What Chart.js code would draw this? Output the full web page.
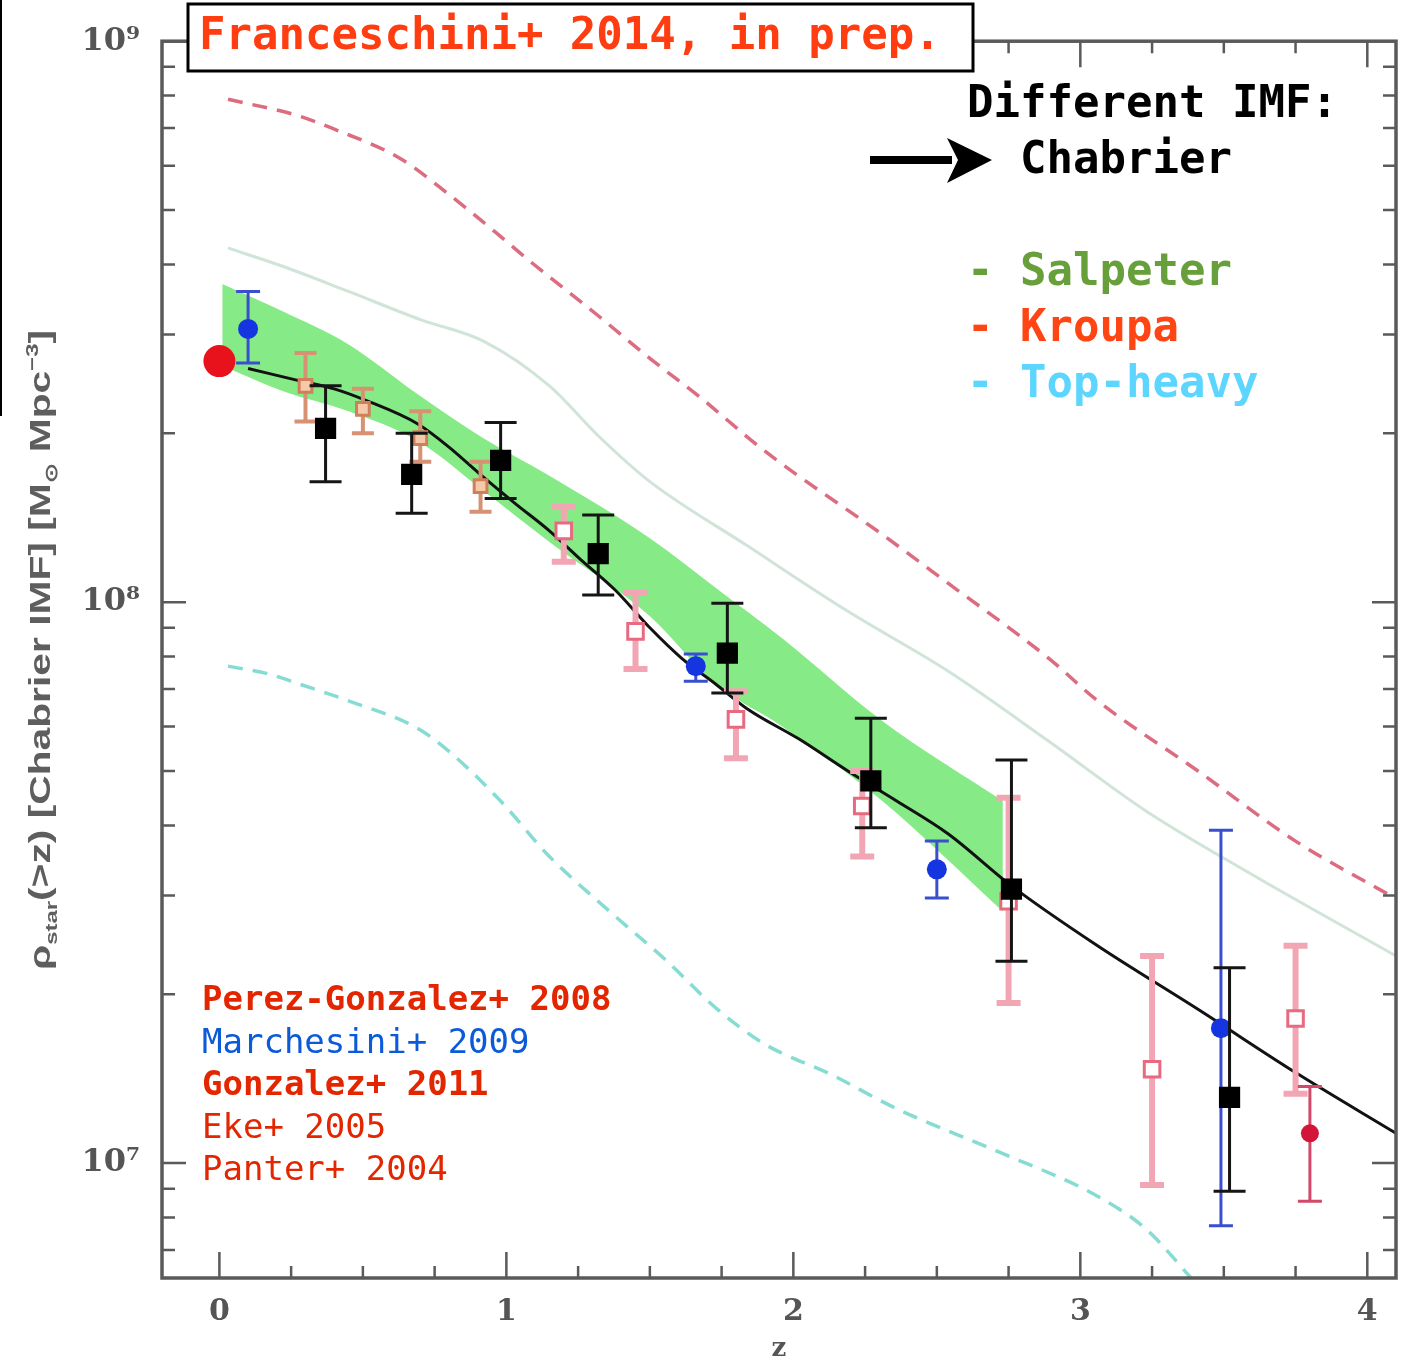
<!DOCTYPE html>
<html>
<head>
<meta charset="utf-8">
<script src="https://cdn.jsdelivr.net/npm/chart.js@4.4.1/dist/chart.umd.min.js"></script>
<style>
  html, body { margin: 0; padding: 0; background: #fff; }
  #wrap { width: 1412px; height: 1365px; }
</style>
</head>
<body>
<div id="wrap"><canvas id="rhoChart" width="1412" height="1365"></canvas></div>
<script>
// stellar mass density above z
const xTicks = [0, 1, 2, 3, 4];
const xTickLabels = ['0', '1', '2', '3', '4'];
const yTicks = [1e7, 1e8, 1e9];
const yTickLabels = ['10⁷', '10⁸', '10⁹'];

// Chabrier model (solid black)
const zChab = [0.10, 0.28, 0.40, 0.51, 0.69, 0.80, 0.92, 1.03, 1.15, 1.26, 1.38, 1.50, 1.61, 1.73, 1.84, 2.02, 2.19, 2.36, 2.54, 2.76, 3.06, 3.41, 3.75, 4.10];
const rhoChab = [2.61e8, 2.48e8, 2.40e8, 2.29e8, 2.08e8, 1.89e8, 1.67e8, 1.50e8, 1.34e8, 1.19e8, 1.05e8, 9.00e7, 7.95e7, 7.14e7, 6.45e7, 5.70e7, 5.00e7, 4.42e7, 3.86e7, 3.12e7, 2.44e7, 1.88e7, 1.45e7, 1.13e7];

// green uncertainty band
const zBand = [0.01, 0.22, 0.45, 0.69, 0.92, 1.15, 1.50, 1.73, 1.96, 2.31, 2.73];
const bandHi = [3.69e8, 3.30e8, 2.88e8, 2.35e8, 1.96e8, 1.68e8, 1.30e8, 1.06e8, 8.63e7, 6.14e7, 4.42e7];
const bandLo = [2.64e8, 2.38e8, 2.19e8, 1.94e8, 1.58e8, 1.28e8, 9.44e7, 7.14e7, 6.01e7, 4.42e7, 2.81e7];

// Salpeter (faint green)
const zSalp = [0.03, 0.22, 0.45, 0.70, 0.92, 1.15, 1.32, 1.50, 1.84, 2.19, 2.54, 2.89, 3.23, 3.58, 4.10];
const rhoSalp = [4.28e8, 3.97e8, 3.58e8, 3.19e8, 2.92e8, 2.43e8, 1.98e8, 1.64e8, 1.26e8, 9.63e7, 7.53e7, 5.65e7, 4.24e7, 3.31e7, 2.34e7];

// Kroupa (red dashed)
const zKroupa = [0.03, 0.28, 0.40, 0.63, 0.80, 0.97, 1.07, 1.32, 1.50, 1.67, 1.90, 2.31, 2.54, 2.89, 3.06, 3.41, 3.75, 4.10];
const rhoKroupa = [7.88e8, 7.35e8, 6.97e8, 6.18e8, 5.33e8, 4.53e8, 4.10e8, 3.24e8, 2.72e8, 2.33e8, 1.86e8, 1.32e8, 1.08e8, 7.94e7, 6.67e7, 5.00e7, 3.75e7, 2.96e7];

// top-heavy (cyan dashed)
const zTop = [0.03, 0.17, 0.28, 0.45, 0.69, 0.80, 0.98, 1.15, 1.36, 1.56, 1.73, 1.90, 2.13, 2.36, 2.71, 3.06, 3.23, 3.39];
const rhoTop = [7.69e7, 7.45e7, 7.14e7, 6.67e7, 5.96e7, 5.42e7, 4.42e7, 3.52e7, 2.81e7, 2.29e7, 1.89e7, 1.63e7, 1.44e7, 1.25e7, 1.05e7, 8.73e6, 7.62e6, 6.21e6];

// data points with error bars
const zBlack = [0.37, 0.67, 0.98, 1.32, 1.77, 2.27, 2.76, 3.52];
const rhoBlack = [2.04e8, 1.69e8, 1.79e8, 1.22e8, 8.11e7, 4.80e7, 3.08e7, 1.31e7];
const blackHi = [2.43e8, 2.00e8, 2.09e8, 1.43e8, 9.96e7, 6.21e7, 5.23e7, 2.23e7];
const blackLo = [1.64e8, 1.44e8, 1.53e8, 1.03e8, 6.89e7, 3.96e7, 2.29e7, 8.91e6];

const zBlue = [0.10, 1.66, 2.50, 3.49];
const rhoBlue = [3.07e8, 7.69e7, 3.34e7, 1.74e7];
const blueHi = [3.58e8, 8.08e7, 3.75e7, 3.92e7];
const blueLo = [2.67e8, 7.23e7, 2.97e7, 7.73e6];

const zBrown = [0.30, 0.50, 0.70, 0.91];
const rhoBrown = [2.43e8, 2.21e8, 1.96e8, 1.61e8];
const brownHi = [2.78e8, 2.40e8, 2.19e8, 1.78e8];
const brownLo = [2.10e8, 2.00e8, 1.78e8, 1.45e8];

const zPink = [1.20, 1.45, 1.80, 2.24, 2.75, 3.25, 3.75];
const rhoPink = [1.34e8, 8.87e7, 6.18e7, 4.33e7, 2.93e7, 1.47e7, 1.81e7];
const pinkHi = [1.48e8, 1.04e8, 6.94e7, 5.00e7, 4.48e7, 2.34e7, 2.44e7];
const pinkLo = [1.18e8, 7.60e7, 5.27e7, 3.52e7, 1.93e7, 9.14e6, 1.33e7];

const zRed = [3.80];
const rhoRed = [1.13e7];
const redHi = [1.37e7];
const redLo = [8.55e6];

const zLocal = [0.0];
const rhoLocal = [2.69e8];

const pts = (xs, ys) => xs.map((x, i) => ({ x: x, y: ys[i] }));

// error bars drawn just before each marker dataset
const errorBars = {
    id: 'errorBars',
    beforeDatasetDraw(chart, args) {
        const ds = chart.data.datasets[args.index];
        if (!ds.errHi) return;
        const ctx = chart.ctx;
        const xs = chart.scales.x, ys = chart.scales.y;
        const a = chart.chartArea;
        ctx.save();
        ctx.beginPath();
        ctx.rect(a.left, a.top, a.right - a.left, a.bottom - a.top);
        ctx.clip();
        ctx.strokeStyle = ds.errColor;
        ctx.lineWidth = ds.errWidth;
        ds.data.forEach((p, i) => {
            const px = xs.getPixelForValue(p.x);
            const top = ys.getPixelForValue(ds.errHi[i]);
            const bot = ys.getPixelForValue(ds.errLo[i]);
            const c = ds.capWidth / 2;
            ctx.beginPath();
            ctx.moveTo(px, top); ctx.lineTo(px, bot);
            ctx.moveTo(px - c, top); ctx.lineTo(px + c, top);
            ctx.moveTo(px - c, bot); ctx.lineTo(px + c, bot);
            ctx.stroke();
        });
        ctx.restore();
    }
};

// box frame with inward ticks on all four sides
const frameTicks = {
    id: 'frameTicks',
    afterDatasetsDraw(chart) {
        const ctx = chart.ctx;
        const a = chart.chartArea;
        const xs = chart.scales.x, ys = chart.scales.y;
        ctx.save();
        ctx.strokeStyle = '#5a5a5a';
        ctx.lineWidth = 3.5;
        ctx.strokeRect(a.left, a.top, a.right - a.left, a.bottom - a.top);
        ctx.lineWidth = 2.5;
        ctx.beginPath();
        for (let k = 0; k <= 16; k++) {
            const v = k * 0.25;
            const px = xs.getPixelForValue(v);
            const len = (k % 4 === 0) ? 26 : 12;
            ctx.moveTo(px, a.bottom); ctx.lineTo(px, a.bottom - len);
            ctx.moveTo(px, a.top); ctx.lineTo(px, a.top + len);
        }
        [1e6, 1e7, 1e8].forEach(dec => {
            for (let m = 1; m <= 9; m++) {
                const v = m * dec;
                if (v < ys.min || v > ys.max) continue;
                const py = ys.getPixelForValue(v);
                const len = (m === 1) ? 24 : 13;
                ctx.moveTo(a.left, py); ctx.lineTo(a.left + len, py);
                ctx.moveTo(a.right, py); ctx.lineTo(a.right - len, py);
            }
        });
        const py9 = ys.getPixelForValue(1e9);
        ctx.moveTo(a.left, py9); ctx.lineTo(a.left + 24, py9);
        ctx.stroke();
        ctx.restore();
    }
};

// y-axis title with sub/superscripts, stretched to the span of the original
const yTitle = {
    id: 'yTitle',
    afterDraw(chart) {
        const ctx = chart.ctx;
        const big = 'bold 29px "Liberation Sans", Arial, sans-serif';
        const small = 'bold 17px "Liberation Sans", Arial, sans-serif';
        const parts = [
            ['ρ', big, 0], ['star', small, 7], ['(>z) [Chabrier IMF] [M', big, 0],
            ['⊙', small, 7], [' Mpc', big, 0], ['−3', small, -12], [']', big, 0]
        ];
        let w = 0;
        parts.forEach(p => { ctx.font = p[1]; w += ctx.measureText(p[0]).width; });
        const span = 640;
        ctx.save();
        ctx.translate(50, 650 + span / 2);
        ctx.rotate(-Math.PI / 2);
        ctx.scale(span / w, 1);
        ctx.fillStyle = '#5e5e5e';
        ctx.textBaseline = 'alphabetic';
        let x = 0;
        parts.forEach(p => {
            ctx.font = p[1];
            ctx.fillText(p[0], x, p[2]);
            x += ctx.measureText(p[0]).width;
        });
        ctx.restore();
    }
};

// overlay annotations: title box, IMF key, reference list
const notes = {
    id: 'notes',
    afterDraw(chart) {
        const ctx = chart.ctx;
        const mono = '"DejaVu Sans Mono", "Liberation Mono", monospace';
        ctx.save();
        // stray frame line at the far left
        ctx.fillStyle = '#000';
        ctx.fillRect(0, 0, 2, 416);

        ctx.fillStyle = '#fff';
        ctx.fillRect(188, 4, 785, 67);
        ctx.strokeStyle = '#000';
        ctx.lineWidth = 3;
        ctx.strokeRect(188, 4, 785, 67);
        ctx.textBaseline = 'alphabetic';
        ctx.font = 'bold 44px ' + mono;
        ctx.fillStyle = '#ff3d10';
        ctx.fillText('Franceschini+ 2014, in prep.', 199, 49);

        ctx.fillStyle = '#000';
        ctx.fillText('Different IMF:', 967, 117);
        ctx.fillText('Chabrier', 1020, 173);

        // arrow
        ctx.fillRect(870, 156, 82, 8);
        ctx.beginPath();
        ctx.moveTo(992, 160);
        ctx.lineTo(947, 138);
        ctx.lineTo(958, 160);
        ctx.lineTo(947, 183);
        ctx.closePath();
        ctx.fill();

        ctx.fillStyle = '#67a03a';
        ctx.fillText('- Salpeter', 967, 285);
        ctx.fillStyle = '#ff4514';
        ctx.fillText('- Kroupa', 967, 341);
        ctx.fillStyle = '#5cd6ff';
        ctx.fillText('- Top-heavy', 967, 397);

        const refs = [
            ['Perez-Gonzalez+ 2008', 'bold', '#e32600', 1010],
            ['Marchesini+ 2009', 'normal', '#0b5ad9', 1053],
            ['Gonzalez+ 2011', 'bold', '#e32600', 1095],
            ['Eke+ 2005', 'normal', '#e32600', 1138],
            ['Panter+ 2004', 'normal', '#e32600', 1180]
        ];
        refs.forEach(r => {
            ctx.font = r[1] + ' 34px ' + mono;
            ctx.fillStyle = r[2];
            ctx.fillText(r[0], 202, r[3]);
        });
        ctx.restore();
    }
};

const lineDs = (label, xs, ys, color, width, dash, order) => ({
    label: label,
    data: pts(xs, ys),
    showLine: true,
    borderColor: color,
    borderWidth: width,
    borderDash: dash,
    pointRadius: 0,
    cubicInterpolationMode: 'monotone',
    fill: false,
    order: order
});

const markDs = (label, xs, ys, hi, lo, style, order) => Object.assign({
    label: label,
    data: pts(xs, ys),
    showLine: false,
    errHi: hi,
    errLo: lo,
    order: order
}, style);

new Chart(document.getElementById('rhoChart'), {
    type: 'scatter',
    data: {
        datasets: [
            markDs('Local', zLocal, rhoLocal, null, null,
                { pointStyle: 'circle', pointRadius: 16, backgroundColor: '#e8121c', borderColor: '#e8121c', borderWidth: 0 }, 1),
            markDs('Black', zBlack, rhoBlack, blackHi, blackLo,
                { pointStyle: 'rect', pointRadius: 15, backgroundColor: '#000', borderColor: '#000', borderWidth: 0,
                  errColor: '#151515', errWidth: 3, capWidth: 32 }, 2),
            markDs('Blue', zBlue, rhoBlue, blueHi, blueLo,
                { pointStyle: 'circle', pointRadius: 10, backgroundColor: '#1535e0', borderColor: '#1535e0', borderWidth: 0,
                  errColor: '#3a4fd0', errWidth: 3, capWidth: 24 }, 3),
            markDs('Red', zRed, rhoRed, redHi, redLo,
                { pointStyle: 'circle', pointRadius: 9, backgroundColor: '#d4153a', borderColor: '#d4153a', borderWidth: 0,
                  errColor: '#d24a68', errWidth: 3, capWidth: 24 }, 4),
            markDs('Pink', zPink, rhoPink, pinkHi, pinkLo,
                { pointStyle: 'rect', pointRadius: 11, backgroundColor: '#fff', borderColor: '#e86a80', borderWidth: 3,
                  errColor: '#f2a6b4', errWidth: 6, capWidth: 24 }, 5),
            markDs('Brown', zBrown, rhoBrown, brownHi, brownLo,
                { pointStyle: 'rect', pointRadius: 9, backgroundColor: '#f6c9a8', borderColor: '#cf7f5a', borderWidth: 3,
                  errColor: '#d69272', errWidth: 4, capWidth: 22 }, 6),
            lineDs('Chabrier', zChab, rhoChab, '#121212', 3, [], 7),
            lineDs('Kroupa', zKroupa, rhoKroupa, '#dc6c80', 3.5, [15, 10], 8),
            lineDs('Top-heavy', zTop, rhoTop, '#86dcd2', 3.5, [15, 10], 8),
            lineDs('Salpeter', zSalp, rhoSalp, '#d0e4d8', 3, [], 8),
            {
                label: 'band high',
                data: pts(zBand, bandHi),
                showLine: true,
                borderWidth: 0,
                borderColor: 'rgba(0,0,0,0)',
                backgroundColor: '#86ea86',
                pointRadius: 0,
                cubicInterpolationMode: 'monotone',
                fill: '+1',
                order: 9
            },
            {
                label: 'band low',
                data: pts(zBand, bandLo),
                showLine: true,
                borderWidth: 0,
                borderColor: 'rgba(0,0,0,0)',
                pointRadius: 0,
                cubicInterpolationMode: 'monotone',
                fill: false,
                order: 9
            }
        ]
    },
    options: {
        responsive: false,
        devicePixelRatio: 1,
        animation: false,
        layout: { padding: { top: 40, right: 14, left: 0, bottom: 0 } },
        plugins: {
            legend: { display: false },
            tooltip: { enabled: false }
        },
        scales: {
            x: {
                type: 'linear',
                min: -0.2,
                max: 4.1,
                afterBuildTicks: s => { s.ticks = xTicks.map(v => ({ value: v })); },
                afterFit: s => { s.height = 87; },
                grid: { display: false, drawTicks: false },
                border: { display: false },
                ticks: {
                    padding: 16,
                    color: '#555',
                    font: { family: '"DejaVu Serif", serif', size: 30, weight: 'bold' },
                    callback: (v, i) => xTickLabels[i]
                },
                title: {
                    display: true,
                    text: 'z',
                    color: '#555',
                    font: { family: '"DejaVu Serif", serif', size: 26, weight: 'bold' },
                    padding: { top: 0, bottom: 0 }
                }
            },
            y: {
                type: 'logarithmic',
                min: 6.24e6,
                max: 1e9,
                afterBuildTicks: s => { s.ticks = yTicks.map(v => ({ value: v })); },
                afterFit: s => { s.width = 162; },
                grid: { display: false, drawTicks: false },
                border: { display: false },
                ticks: {
                    padding: 22,
                    color: '#555',
                    autoSkip: false,
                    font: { family: '"DejaVu Serif", serif', size: 32, weight: 'bold' },
                    callback: (v, i) => yTickLabels[i]
                }
            }
        }
    },
    plugins: [errorBars, frameTicks, yTitle, notes]
});
</script>
</body>
</html>
